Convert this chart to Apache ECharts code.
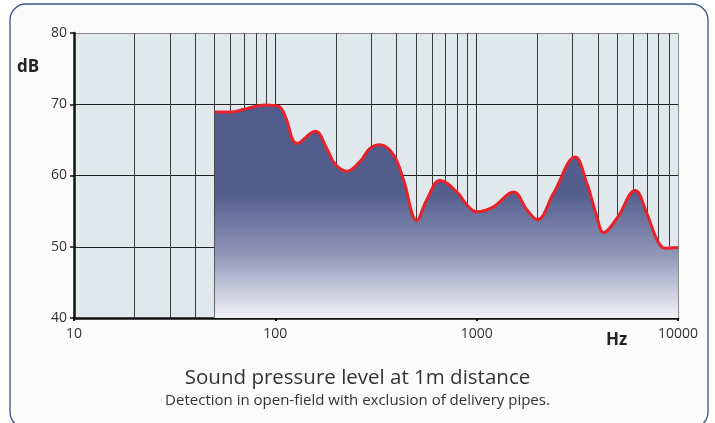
<!DOCTYPE html>
<html>
<head>
<meta charset="utf-8">
<script src="https://cdn.jsdelivr.net/npm/echarts@6/dist/echarts.min.js"></script>
<style>
html,body{margin:0;padding:0;background:#ffffff;}
#c{width:715px;height:423px;}
</style>
</head>
<body>
<div id="c"></div>
<script>
// Data
const freqHz = [50, 60, 70, 90, 104, 112, 128, 158, 180, 198, 226, 264, 295, 331, 386, 433, 504, 565, 658, 796, 893, 1000, 1211, 1522, 1774, 2003, 2407, 3083, 3525, 3955, 4265, 4975, 6125, 7000, 7855, 8630, 10000];
const levelDb = [68.9, 68.9, 69.3, 69.9, 69.7, 68.3, 64.5, 66.2, 63.8, 61.6, 60.6, 62.0, 63.8, 64.3, 62.9, 59.4, 53.7, 56.6, 59.3, 57.7, 55.9, 54.9, 55.6, 57.7, 55.2, 53.8, 57.5, 62.6, 58.9, 54.2, 52.0, 54.0, 57.9, 54.7, 51.0, 49.8, 49.9];
const minorGridHz = [20, 30, 40, 50, 60, 70, 80, 90, 200, 300, 400, 500, 600, 700, 800, 900, 2000, 3000, 4000, 5000, 6000, 7000, 8000, 9000];
const xTickLabels = ['10', '100', '1000', '10000'];
const titleText = 'Sound pressure level at 1m distance';
const subtitleText = 'Detection in open-field with exclusion of delivery pipes.';

const FONT = '"Open Sans", "Noto Sans", sans-serif';
const chart = echarts.init(document.getElementById('c'), null, {renderer: 'canvas'});

const curve = freqHz.map((f, i) => [f, levelDb[i]]);

chart.setOption({
  animation: false,
  backgroundColor: 'transparent',
  graphic: [
    {type: 'rect', z: -10, shape: {x: 10, y: 4, width: 698, height: 424, r: 16},
     style: {fill: '#fbfbfb', stroke: '#3a5686', lineWidth: 1.3}},
    {type: 'text', left: 17, top: 59, style: {text: 'dB', font: 'bold 17px ' + FONT, fill: '#222'}},
    {type: 'text', left: 606, top: 332, style: {text: 'Hz', font: 'bold 17px ' + FONT, fill: '#222'}},
    {type: 'text', left: 'center', top: 368, style: {text: titleText, font: '20.5px ' + FONT, fill: '#333'}},
    {type: 'text', left: 'center', top: 393, style: {text: subtitleText, font: '15px ' + FONT, fill: '#333'}}
  ],
  grid: {left: 74, right: 37, top: 33, bottom: 105, show: true, backgroundColor: '#e1e8ec', borderWidth: 0},
  xAxis: {
    type: 'log', logBase: 10, min: 10, max: 10000,
    axisLine: {show: true, onZero: false, lineStyle: {color: '#111', width: 2.5}},
    axisTick: {show: true, length: 3, lineStyle: {color: '#111', width: 2}},
    axisLabel: {margin: 9, color: '#333', fontSize: 14, fontFamily: FONT,
      formatter: v => { const s = String(Math.round(v)); return xTickLabels.indexOf(s) >= 0 ? s : ''; }},
    splitLine: {show: true, lineStyle: {color: ['#333', '#333', '#333', '#888'], width: 1}},
    minorTick: {show: false}
  },
  yAxis: {
    type: 'value', min: 40, max: 80, interval: 10,
    axisLine: {show: true, lineStyle: {color: '#111', width: 2.5}},
    axisTick: {show: true, length: 4, lineStyle: {color: '#111', width: 1.5}},
    axisLabel: {margin: 7, color: '#333', fontSize: 14, fontFamily: FONT},
    splitLine: {show: true, lineStyle: {color: ['#222', '#222', '#222', '#222', '#888'], width: 1}}
  },
  series: [
    {
      type: 'line', z: 1, data: [[10, 40]], showSymbol: false, silent: true,
      lineStyle: {width: 0},
      markLine: {
        z: 1, silent: true, symbol: 'none', animation: false,
        label: {show: false},
        lineStyle: {color: '#3c3c3c', width: 1, type: 'solid'},
        data: minorGridHz.map(f => ({xAxis: f}))
      }
    },
    {
      type: 'line', z: 3, data: curve, smooth: 0.4, showSymbol: false, silent: true,
      lineStyle: {color: '#e8212b', width: 3},
      areaStyle: {
        origin: 'start', opacity: 1,
        color: new echarts.graphic.LinearGradient(0, 0, 0, 1, [
          {offset: 0, color: '#515b8b'},
          {offset: 0.42, color: '#545f8e'},
          {offset: 0.7, color: '#9196b9'},
          {offset: 1, color: '#f2f2f7'}
        ])
      },
      markLine: {
        z: 10, silent: true, symbol: 'none', animation: false,
        label: {show: false},
        lineStyle: {color: '#888', width: 1, type: 'solid'},
        data: [{xAxis: 10000}]
      }
    }
  ]
});
</script>
</body>
</html>
